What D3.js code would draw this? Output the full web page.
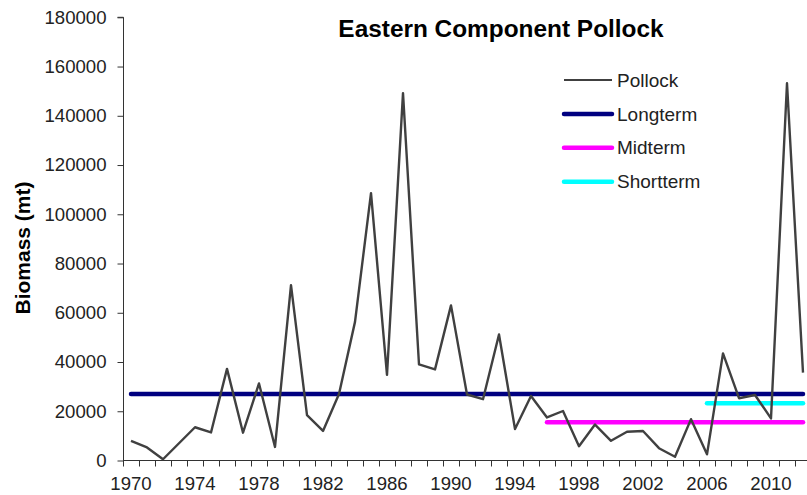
<!DOCTYPE html>
<html>
<head>
<meta charset="utf-8">
<script src="https://cdn.jsdelivr.net/npm/d3@7"></script>
<style>
  html, body { margin: 0; padding: 0; background: #fff; }
  svg { display: block; font-family: "Liberation Sans", Arial, sans-serif; }
</style>
</head>
<body>
<svg id="chart" width="807" height="495"></svg>
<script>
const years = d3.range(1970, 2013);
const pollock = [8000, 5300, 500, 7000, 13500, 11400, 37200, 11300, 31300, 5500,
  71200, 18400, 12000, 27000, 56300, 108600, 34800, 149200, 39000, 37000,
  63000, 26800, 24900, 51200, 12800, 26200, 17500, 20100, 5800, 14600,
  8000, 11700, 12000, 5000, 1500, 16800, 2500, 43500, 25300, 26600,
  17100, 153200, 35700];
const longtermYears = d3.range(1970, 2013);
const longterm = longtermYears.map(() => 27000);
const midtermYears = d3.range(1996, 2013);
const midterm = midtermYears.map(() => 15500);
const shorttermYears = d3.range(2006, 2013);
const shortterm = shorttermYears.map(() => 23300);
const yTicks = d3.range(0, 180001, 20000);
const xLabelYears = years.filter(y => (y - 1970) % 4 === 0);
const legendNames = ["Pollock", "Longterm", "Midterm", "Shortterm"];
const legendColors = ["#404040", "#000080", "#FF00FF", "#00FFFF"];
const legendWidths = [2.2, 4.5, 4.5, 4.5];

const svg = d3.select("#chart");
const x = d3.scaleBand().domain(years).range([123, 811]).paddingInner(0).paddingOuter(0);
const y = d3.scaleLinear().domain([0, 180000]).range([460.5, 17.3]);
const cx = yr => x(yr) + x.bandwidth() / 2;

// Y axis
const yAxis = d3.axisLeft(y).tickValues(yTicks).tickSize(6).tickPadding(11).tickFormat(d3.format("d"));
const gy = svg.append("g").attr("transform", "translate(123.5,0)").call(yAxis);
gy.select(".domain").attr("stroke", "#333").attr("d", `M-6,${y(180000)}H0V${y(0)}`);
gy.selectAll(".tick line").attr("stroke", "#333");
gy.selectAll(".tick text").attr("font-size", "18.6px").attr("fill", "#222")
  .attr("font-family", "'Liberation Sans', Arial, sans-serif");

// X axis (category axis with ticks between categories)
const gx = svg.append("g");
gx.append("line").attr("x1", 123).attr("x2", 811).attr("y1", y(0)).attr("y2", y(0)).attr("stroke", "#333");
const boundaries = years.map(yr => x(yr)).concat([x(2012) + x.bandwidth()]);
gx.selectAll("line.tk").data(boundaries).enter().append("line")
  .attr("class", "tk")
  .attr("x1", d => Math.round(d) + 0.5).attr("x2", d => Math.round(d) + 0.5)
  .attr("y1", y(0)).attr("y2", y(0) + 6).attr("stroke", "#333");
gx.selectAll("text").data(xLabelYears).enter().append("text")
  .attr("x", d => cx(d)).attr("y", 490)
  .attr("text-anchor", "middle").attr("font-size", "18.6px").attr("fill", "#222")
  .text(d => d);

// Lines
const line = d3.line().x(d => cx(d[0])).y(d => y(d[1]));
function drawSeries(ys, vals, color, w, cap) {
  svg.append("path").datum(ys.map((yr, i) => [yr, vals[i]]))
    .attr("d", line).attr("fill", "none").attr("stroke", color)
    .attr("stroke-width", w).attr("stroke-linejoin", "round").attr("stroke-linecap", cap);
}
drawSeries(longtermYears, longterm, legendColors[1], 4.5, "round");
drawSeries(midtermYears, midterm, legendColors[2], 4.5, "round");
drawSeries(shorttermYears, shortterm, legendColors[3], 4.5, "round");
drawSeries(years, pollock, legendColors[0], 2.4, "butt");

// Title
svg.append("text").attr("x", 501).attr("y", 37).attr("text-anchor", "middle")
  .attr("font-size", "24.4px").attr("font-weight", "bold").attr("fill", "#000")
  .text("Eastern Component Pollock");

// Y label
svg.append("text").attr("transform", "translate(30,248) rotate(-90)")
  .attr("text-anchor", "middle").attr("font-size", "21px").attr("font-weight", "bold").attr("fill", "#000")
  .text("Biomass (mt)");

// Legend
const leg = svg.append("g");
legendNames.forEach((name, i) => {
  const ly = 80 + i * 33.9;
  leg.append("line").attr("x1", 564).attr("x2", 612).attr("y1", ly).attr("y2", ly)
    .attr("stroke", legendColors[i]).attr("stroke-width", legendWidths[i])
    .attr("stroke-linecap", i === 0 ? "butt" : "round");
  leg.append("text").attr("x", 617).attr("y", ly).attr("dy", "0.35em")
    .attr("font-size", "19px").attr("fill", "#222").text(name);
});
</script>
</body>
</html>
